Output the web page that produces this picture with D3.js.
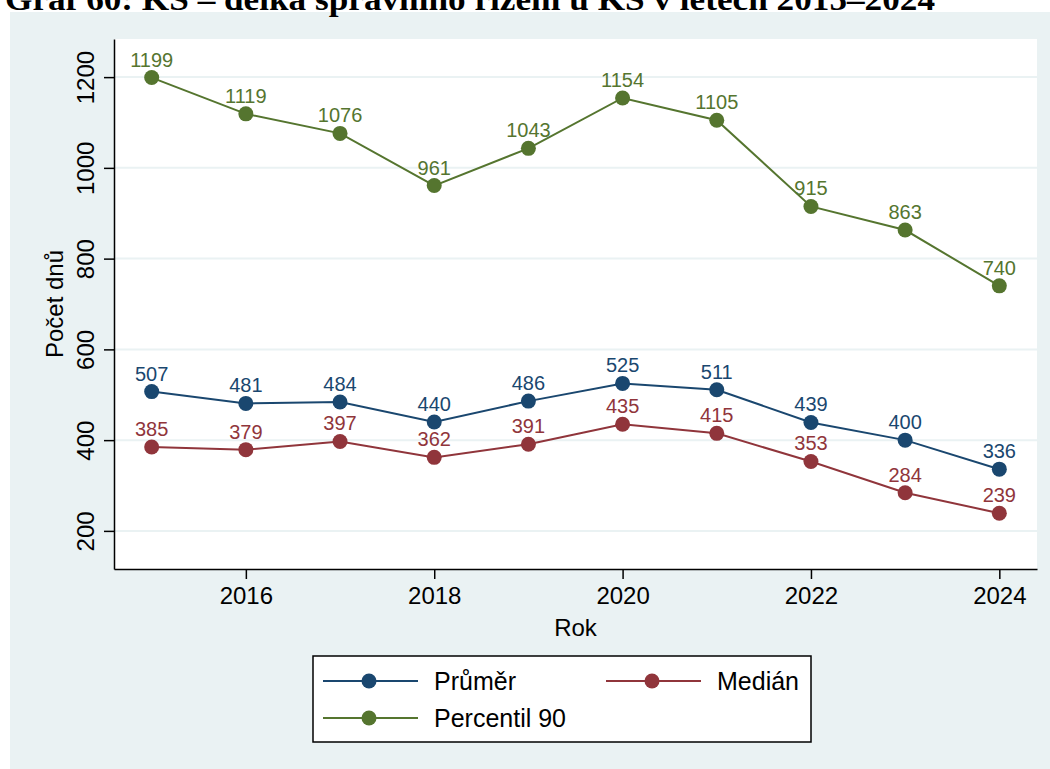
<!DOCTYPE html>
<html>
<head>
<meta charset="utf-8">
<script src="https://cdn.jsdelivr.net/npm/d3@7"></script>
<style>
  body { margin: 0; background: #fff; }
  svg { display: block; }
</style>
</head>
<body>
<div id="chart"></div>
<script>
const years = [2015, 2016, 2017, 2018, 2019, 2020, 2021, 2022, 2023, 2024]
const prumer = [507, 481, 484, 440, 486, 525, 511, 439, 400, 336]
const median = [385, 379, 397, 362, 391, 435, 415, 353, 284, 239]
const percentil90 = [1199, 1119, 1076, 961, 1043, 1154, 1105, 915, 863, 740]
const xTicks = [2016, 2018, 2020, 2022, 2024]
const yTicks = [200, 400, 600, 800, 1000, 1200]

const series = [
    { name: 'Průměr', values: prumer, color: '#1a476f' },
    { name: 'Medián', values: median, color: '#90353b' },
    { name: 'Percentil 90', values: percentil90, color: '#55752f' }
]

const W = 1050, H = 769
const plot = { left: 114, right: 1037, top: 39, bottom: 569 }
const font = "'Liberation Sans', Arial, sans-serif"

const svg = d3.select('#chart').append('svg')
    .attr('width', W)
    .attr('height', H)

// outer background
svg.append('rect')
    .attr('x', 10).attr('y', 12)
    .attr('width', W - 10).attr('height', H - 12)
    .attr('fill', '#eaf2f3')

// title, cut off at the top of the picture like in the source
svg.append('text')
    .attr('x', 5).attr('y', 10)
    .attr('font-family', "'Liberation Serif', 'Times New Roman', serif")
    .attr('font-weight', 'bold')
    .attr('font-size', 31)
    .attr('textLength', 930)
    .attr('lengthAdjust', 'spacingAndGlyphs')
    .text('Graf 60: KS – délka správního řízení u KS v letech 2015–2024')

svg.append('rect')
    .attr('x', plot.left).attr('y', plot.top)
    .attr('width', plot.right - plot.left).attr('height', plot.bottom - plot.top)
    .attr('fill', '#fff')

let x = d3.scaleLinear()
    .domain([2014.6, 2024.4])
    .range([plot.left, plot.right])

let y = d3.scaleLinear()
    .domain([116, 1284])
    .range([plot.bottom, plot.top])

// gridlines
svg.append('g').selectAll('line')
    .data(yTicks)
    .join('line')
    .attr('x1', plot.left).attr('x2', plot.right)
    .attr('y1', d => y(d)).attr('y2', d => y(d))
    .attr('stroke', '#eaf2f3')
    .attr('stroke-width', 2)

// axes
let leftAxis = d3.axisLeft(y).tickValues(yTicks).tickFormat(d3.format('d')).tickSize(10).tickPadding(6).tickSizeOuter(0)
let gy = svg.append('g')
    .attr('transform', `translate(${plot.left},0)`)
    .call(leftAxis)
gy.select('.domain').attr('stroke', '#000').attr('stroke-width', 1.5)
gy.selectAll('.tick line').attr('stroke', '#000').attr('stroke-width', 1.5)
gy.selectAll('.tick text')
    .attr('font-family', font).attr('font-size', 24).attr('fill', '#000')
    .attr('text-anchor', 'middle')
    .attr('transform', `translate(-26, 0) rotate(-90)`)
    .attr('x', 0).attr('y', 0).attr('dy', 0)
    .attr('dominant-baseline', 'middle')

let bottomAxis = d3.axisBottom(x).tickValues(xTicks).tickFormat(d3.format('d')).tickSize(10).tickPadding(8).tickSizeOuter(0)
let gx = svg.append('g')
    .attr('transform', `translate(0,${plot.bottom})`)
    .call(bottomAxis)
gx.select('.domain').attr('stroke', '#000').attr('stroke-width', 1.5)
gx.selectAll('.tick line').attr('stroke', '#000').attr('stroke-width', 1.5)
gx.selectAll('.tick text')
    .attr('font-family', font).attr('font-size', 24).attr('fill', '#000')

// axis titles
svg.append('text')
    .attr('x', (plot.left + plot.right) / 2).attr('y', 636)
    .attr('text-anchor', 'middle')
    .attr('font-family', font).attr('font-size', 24)
    .text('Rok')

svg.append('text')
    .attr('transform', `translate(63, ${(plot.top + plot.bottom) / 2}) rotate(-90)`)
    .attr('text-anchor', 'middle')
    .attr('font-family', font).attr('font-size', 24)
    .text('Počet dnů')

// lines, markers, labels
let line = d3.line()
    .x((d, i) => x(years[i]))
    .y(d => y(d))

series.forEach(s => {
    let g = svg.append('g')
    g.append('path')
        .attr('d', line(s.values))
        .attr('fill', 'none')
        .attr('stroke', s.color)
        .attr('stroke-width', 2)
    g.selectAll('circle')
        .data(s.values)
        .join('circle')
        .attr('cx', (d, i) => x(years[i]))
        .attr('cy', d => y(d))
        .attr('r', 7.5)
        .attr('fill', s.color)
    g.selectAll('text')
        .data(s.values)
        .join('text')
        .attr('x', (d, i) => x(years[i]))
        .attr('y', d => y(d) - 11)
        .attr('text-anchor', 'middle')
        .attr('font-family', font).attr('font-size', 20)
        .attr('fill', s.color)
        .text(d => d)
})

// legend
let legend = svg.append('g')
legend.append('rect')
    .attr('x', 313).attr('y', 656)
    .attr('width', 498).attr('height', 86)
    .attr('fill', '#fff')
    .attr('stroke', '#000')
    .attr('stroke-width', 1.5)

let legendPos = [
    { x: 323, y: 681 },
    { x: 606, y: 681 },
    { x: 323, y: 718 }
]
series.forEach((s, i) => {
    let p = legendPos[i]
    legend.append('line')
        .attr('x1', p.x).attr('x2', p.x + 95)
        .attr('y1', p.y).attr('y2', p.y)
        .attr('stroke', s.color).attr('stroke-width', 2)
    legend.append('circle')
        .attr('cx', p.x + 46).attr('cy', p.y)
        .attr('r', 7.5).attr('fill', s.color)
    legend.append('text')
        .attr('x', p.x + 111).attr('y', p.y + 9)
        .attr('font-family', font).attr('font-size', 25)
        .text(s.name)
})
</script>
</body>
</html>
